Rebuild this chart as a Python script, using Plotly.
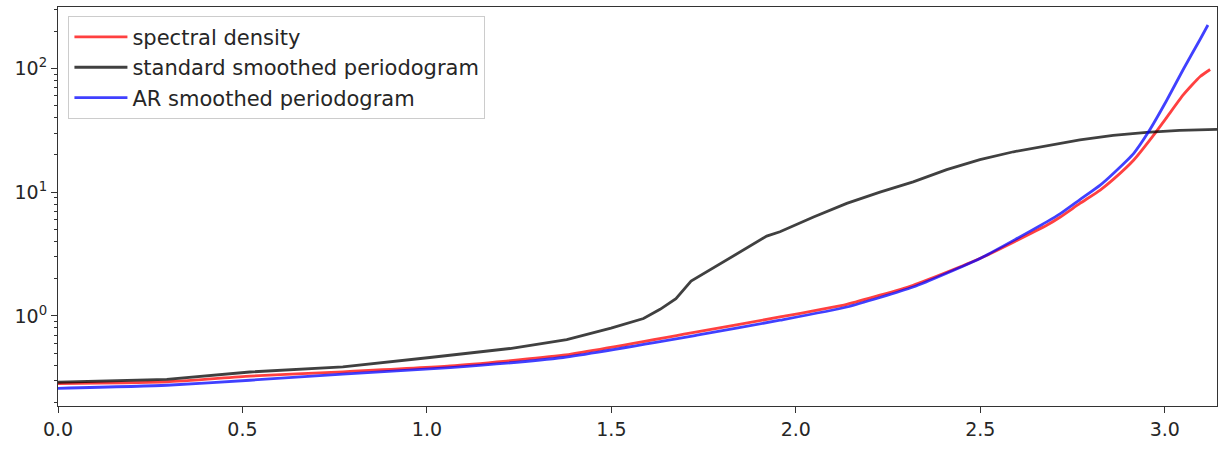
import numpy as np
import plotly.graph_objects as go

# frequencies (x) and values
x_spec = [0.000, 0.295, 0.520, 0.772, 1.063, 1.369, 1.732, 1.957, 2.138, 2.318,
          2.499, 2.680, 2.717, 2.770, 2.825, 2.862, 2.916, 2.974, 3.005, 3.050,
          3.096, 3.123]
y_spec = [0.284, 0.293, 0.326, 0.353, 0.394, 0.481, 0.743, 0.98, 1.24, 1.77,
          2.91, 5.4, 6.3, 8.1, 10.4, 12.8, 18.2, 30.0, 40.0, 61.0,
          86.0, 98.0]

x_std = [0.000, 0.295, 0.520, 0.772, 1.008, 1.225, 1.379, 1.499, 1.587, 1.632,
         1.675, 1.716, 1.921, 1.957, 2.048, 2.138, 2.228, 2.318, 2.409, 2.499,
         2.590, 2.680, 2.770, 2.860, 2.951, 3.040, 3.131, 3.1416]
y_std = [0.291, 0.307, 0.352, 0.387, 0.461, 0.545, 0.643, 0.796, 0.953, 1.13,
         1.38, 1.91, 4.41, 4.78, 6.3, 8.11, 10.0, 12.1, 15.2, 18.3,
         21.2, 23.7, 26.4, 28.7, 30.4, 31.5, 32.1, 32.2]

x_ar = [0.000, 0.295, 0.520, 0.772, 1.063, 1.369, 1.732, 1.957, 2.138, 2.318,
        2.499, 2.680, 2.717, 2.770, 2.825, 2.862, 2.916, 2.956, 3.005, 3.050,
        3.096, 3.117]
y_ar = [0.260, 0.275, 0.302, 0.338, 0.382, 0.461, 0.698, 0.923, 1.18, 1.71,
        2.91, 5.75, 6.7, 8.7, 11.4, 14.3, 20.6, 30.7, 55.0, 98.0,
        172.0, 224.0]

x_ticks = [0.0, 0.5, 1.0, 1.5, 2.0, 2.5, 3.0]
y_ticks = [1, 10, 100]
y_ticktext = ["10<sup>0</sup>", "10<sup>1</sup>", "10<sup>2</sup>"]
y_minor = [m * 10.0 ** k for k in (-1, 0, 1, 2) for m in range(2, 10)]

fig = go.Figure()
series = [
    ("spectral density", x_spec, y_spec, "rgba(255,0,0,0.75)", "spline"),
    ("standard smoothed periodogram", x_std, y_std, "rgba(0,0,0,0.75)", "linear"),
    ("AR smoothed periodogram", x_ar, y_ar, "rgba(0,0,255,0.75)", "spline"),
]
for name, xs, ys, col, shp in series:
    line = dict(color=col, width=2.8, shape=shp)
    if shp == "spline":
        line["smoothing"] = 0.5
    fig.add_trace(go.Scatter(x=xs, y=ys, mode="lines", name=name,
                             legendgroup=name, line=line))

font = dict(family="DejaVu Sans", size=19, color="#262626")
fig.update_layout(
    width=1225, height=449,
    margin=dict(l=58, r=8, t=7, b=43),
    paper_bgcolor="white", plot_bgcolor="white",
    font=font,
    showlegend=True,
    legend=dict(x=0.009, y=0.978, xanchor="left", yanchor="top",
                bgcolor="rgba(255,255,255,0.8)", bordercolor="#cccccc", borderwidth=1,
                font=dict(family="DejaVu Sans", size=21, color="#262626"),
                tracegroupgap=0, itemwidth=53),
)
fig.update_xaxes(range=[0, np.pi], tickvals=x_ticks, tickformat=".1f", automargin=False,
                 showgrid=False, zeroline=False, showline=True, linecolor="#333333",
                 linewidth=1.2, mirror=True, ticks="outside", ticklen=6, tickwidth=1.2,
                 tickcolor="#333333")
fig.update_yaxes(type="log", range=[np.log10(0.187), 2.496], tickvals=y_ticks,
                 ticktext=y_ticktext, automargin=False, showgrid=False, zeroline=False,
                 showline=True, linecolor="#333333", linewidth=1.2, mirror=True,
                 ticks="outside", ticklen=6, tickwidth=1.2, tickcolor="#333333",
                 minor=dict(tickmode="array", tickvals=y_minor, ticks="outside",
                            ticklen=3, tickwidth=1, tickcolor="#333333", showgrid=False))

fig.write_html("out.html", config={"displayModeBar": False},
               post_script="document.body.style.margin='0px';document.body.style.overflow='hidden';")
